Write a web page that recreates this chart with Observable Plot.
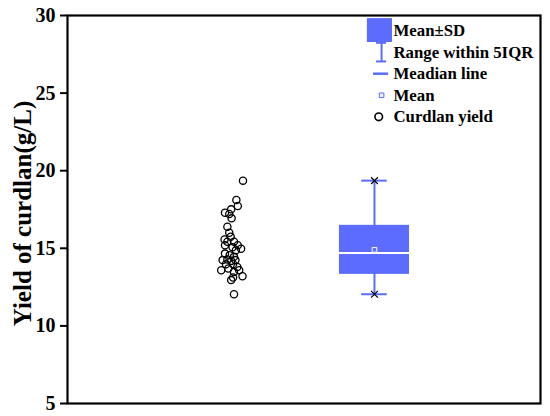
<!DOCTYPE html>
<html>
<head>
<meta charset="utf-8">
<script src="https://cdn.jsdelivr.net/npm/d3@7"></script>
<script src="https://cdn.jsdelivr.net/npm/@observablehq/plot@0.6"></script>
<style>
  html, body { margin: 0; padding: 0; background: #fff; }
  #chart { width: 550px; height: 416px; }
</style>
</head>
<body>
<div id="chart"></div>
<script>
// ---- data ----
const yieldValues = [19.36, 18.11, 17.73, 17.51, 17.29, 17.21, 16.93, 16.39, 16.0, 15.74,
  15.57, 15.42, 15.42, 15.2, 15.2, 14.97, 15.06, 14.88, 14.66, 14.56,
  14.45, 14.28, 14.19, 14.24, 14.24, 13.98, 13.98, 13.80, 13.59, 13.70,
  13.59, 13.48, 13.20, 13.12, 12.95, 12.04];
const jitterX = [0.371, 0.357, 0.360, 0.346, 0.333, 0.342, 0.347, 0.338, 0.342, 0.345,
  0.332, 0.338, 0.352, 0.360, 0.333, 0.367, 0.349, 0.356, 0.333, 0.343,
  0.352, 0.338, 0.346, 0.355, 0.328, 0.335, 0.350, 0.359, 0.325, 0.340,
  0.363, 0.352, 0.370, 0.350, 0.346, 0.352];
const boxMean = [14.9];
const boxSD = [1.58];
const boxMedian = [14.69];
const rangeMin = [12.04];
const rangeMax = [19.36];
const yTicks = [5, 10, 15, 20, 25, 30];
const legendLabels = ["Mean\u00B1SD", "Range within 5IQR", "Meadian line", "Mean", "Curdlan yield"];
const yLabel = "Yield of curdlan(g/L)";

// ---- layout / style constants ----
const BLUE = "#5b6cff";
const FONT = "'Liberation Serif', 'Times New Roman', serif";
const boxX = 0.649, boxHalf = 0.074, capHalf = 0.027;
const legSymX = 0.664, legTextX = 0.687, legTop = 29.03, legStep = 1.39;

const points = yieldValues.map((v, i) => ({x: jitterX[i], y: v}));
const stats = boxMean.map((m, i) => ({
  mean: m, lo: m - boxSD[i], hi: m + boxSD[i], median: boxMedian[i],
  min: rangeMin[i], max: rangeMax[i]
}));
const legend = legendLabels.map((t, i) => ({label: t, y: legTop - i * legStep}));
const L = legend;

const chart = Plot.plot({
  width: 550,
  height: 416,
  marginLeft: 67,
  marginRight: 10,
  marginTop: 15,
  marginBottom: 13,
  style: {fontFamily: FONT, fontWeight: "bold", background: "#fff", overflow: "visible"},
  x: {domain: [0, 1], axis: null},
  y: {domain: [5, 30]},
  marks: [
    Plot.axisY({
      ticks: yTicks, tickSize: 7, tickPadding: 5, fontSize: 20, fontWeight: "bold",
      strokeWidth: 2, label: null, tickFormat: d => d, fill: "#000"
    }),
    Plot.text([yLabel], {frameAnchor: "left", textAnchor: "middle", text: d => d, rotate: -90, dx: -45, dy: 4, fontSize: 25, fontWeight: "bold", fill: "#000"}),
    // whisker
    Plot.ruleX(stats, {x: () => boxX, y1: "min", y2: "max", stroke: BLUE, strokeWidth: 2}),
    Plot.ruleY(stats, {y: "min", x1: () => boxX - capHalf, x2: () => boxX + capHalf, stroke: BLUE, strokeWidth: 2}),
    Plot.ruleY(stats, {y: "max", x1: () => boxX - capHalf, x2: () => boxX + capHalf, stroke: BLUE, strokeWidth: 2}),
    // box (mean ± sd)
    Plot.rect(stats, {x1: () => boxX - boxHalf, x2: () => boxX + boxHalf, y1: "lo", y2: "hi", fill: BLUE}),
    Plot.ruleY(stats, {y: "median", x1: () => boxX - boxHalf, x2: () => boxX + boxHalf, stroke: "#fff", strokeWidth: 2}),
    Plot.dot(stats, {x: () => boxX, y: "mean", symbol: "square", r: 2.6, fill: BLUE, stroke: "#fff", strokeWidth: 1}),
    Plot.dot(stats, {x: () => boxX, y: "min", symbol: "times", r: 3.2, stroke: "#000", strokeWidth: 1.2}),
    Plot.dot(stats, {x: () => boxX, y: "max", symbol: "times", r: 3.2, stroke: "#000", strokeWidth: 1.2}),
    // scatter
    Plot.dot(points, {x: "x", y: "y", r: 3.6, stroke: "#000", strokeWidth: 1.3, fill: "none"}),
    // legend
    Plot.rect([L[0]], {x1: () => 0.634, x2: () => legTextX, y1: d => d.y - 0.77, y2: d => d.y + 0.77, fill: BLUE}),
    Plot.ruleX([L[1]], {x: () => legSymX, y1: d => d.y - 0.6, y2: d => d.y + 0.6, stroke: BLUE, strokeWidth: 2}),
    Plot.ruleY([L[1]], {y: d => d.y - 0.6, x1: () => legSymX - 0.0106, x2: () => legSymX + 0.0106, stroke: BLUE, strokeWidth: 2}),
    Plot.ruleY([L[1]], {y: d => d.y + 0.6, x1: () => legSymX - 0.0106, x2: () => legSymX + 0.0106, stroke: BLUE, strokeWidth: 2}),
    Plot.ruleY([L[2]], {y: "y", x1: () => 0.647, x2: () => 0.679, stroke: BLUE, strokeWidth: 2.5}),
    Plot.dot([L[3]], {x: () => legSymX, y: "y", symbol: "square", r: 2.6, fill: "#eef0ff", stroke: BLUE, strokeWidth: 1}),
    Plot.dot([L[4]], {x: () => 0.658, y: "y", r: 3.8, stroke: "#000", strokeWidth: 1.6, fill: "none"}),
    Plot.text(legend, {x: () => legTextX, y: "y", text: "label", textAnchor: "start", fontSize: 16.8, fontWeight: "bold", fill: "#000", dx: 1}),
    Plot.frame({stroke: "#000", strokeWidth: 2.2})
  ]
});
document.getElementById("chart").append(chart);
</script>
</body>
</html>
